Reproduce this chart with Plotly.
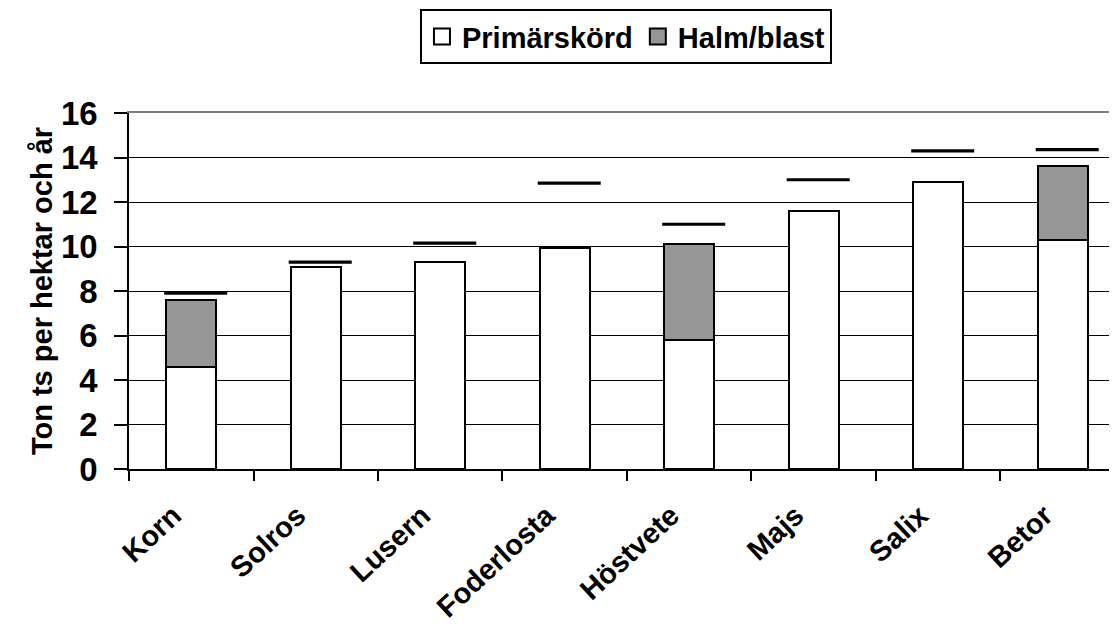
import numpy as np
import plotly.graph_objects as go

# ------------------------------Données------------------------------

grodor = ['Korn', 'Solros', 'Lusern', 'Foderlosta', 'Höstvete', 'Majs', 'Salix', 'Betor']
primarskord = [4.6, 9.1, 9.3, 9.95, 5.8, 11.6, 12.9, 10.3]
halm_blast = [3.0, None, None, None, 4.3, None, None, 3.3]
maxskord = [7.9, 9.3, 10.15, 12.85, 11.0, 13.0, 14.3, 14.35]
y_ticks = [0, 2, 4, 6, 8, 10, 12, 14, 16]

serier = [('Primärskörd', primarskord, 'white'), ('Halm/blast', halm_blast, '#969696')]

# ------------------------------Tracé------------------------------

font_fam = 'Liberation Sans, Arial, sans-serif'
x_range = [-0.5, 7.436]

fig = go.Figure()

for namn, varden, farg in serier:
    fig.add_trace(go.Bar(x=grodor, y=varden, name=namn, showlegend=False,
                         marker=dict(color=farg, line=dict(color='black', width=2))))
    # större rutor i legenden
    fig.add_trace(go.Scatter(x=[None], y=[None], name=namn, mode='markers',
                             marker=dict(symbol='square', size=16, color=farg,
                                         line=dict(color='black', width=2))))

# streck för max, lite förskjutna åt höger
pos = np.arange(len(grodor)) + 0.036
fig.add_trace(go.Scatter(x=pos, y=maxskord, xaxis='x2', mode='markers', showlegend=False,
                         marker=dict(symbol='line-ew', size=45, color='black',
                                     line=dict(color='black', width=3.2))))

# sidan har 8px marginal i webbläsaren, därför l/t lite mindre
fig.update_layout(
    width=1117, height=628,
    margin=dict(l=121, r=8, t=105, b=167, autoexpand=False),
    plot_bgcolor='white', paper_bgcolor='white',
    barmode='stack', bargap=0.6,
    font=dict(family=font_fam, color='black'),
    xaxis=dict(range=x_range, tickson='boundaries', ticks='outside', ticklen=10, tickwidth=1.5,
               tickcolor='black', showline=True, linecolor='black', linewidth=2,
               showgrid=False, tickangle=-43, automargin=False,
               ticklabelstandoff=16, ticklabelshift=-18,
               tickfont=dict(size=29, weight='bold')),
    xaxis2=dict(range=x_range, overlaying='x', side='top', showline=True, linecolor='#808080',
                linewidth=2, showticklabels=False, ticks='', showgrid=False, zeroline=False),
    yaxis=dict(range=[0, 16], tickvals=y_ticks, ticks='outside', ticklen=13, tickwidth=1.5,
               tickcolor='black', showline=True, linecolor='black', linewidth=1.5,
               gridcolor='black', gridwidth=1.2, zeroline=False, ticklabelstandoff=10,
               automargin=False,
               tickfont=dict(size=33, weight='bold'),
               title=dict(text='Ton ts per hektar och år', standoff=0,
                          font=dict(size=29, weight='bold'))),
    legend=dict(orientation='h', x=0.503, xanchor='center', y=1.292, yanchor='top',
                bordercolor='black', borderwidth=2, bgcolor='white',
                font=dict(size=29, weight='bold'), traceorder='normal'),
)

fig.write_html('out.html')
